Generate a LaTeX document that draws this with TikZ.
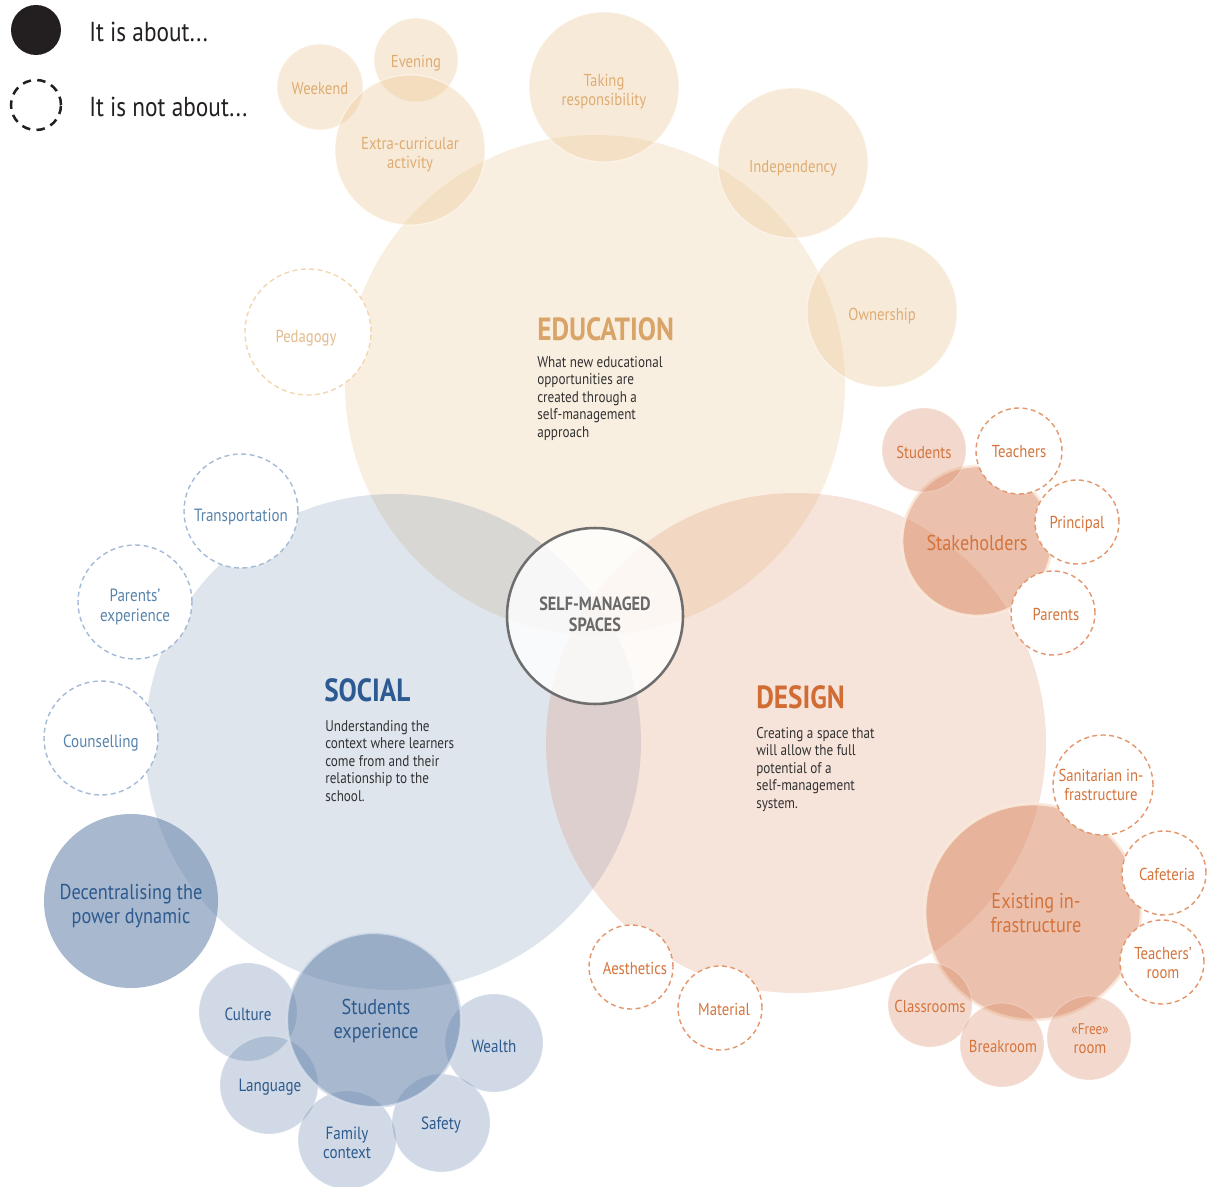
\documentclass[tikz,border=0pt]{standalone}
\usepackage{fontspec}
\setmainfont{PT Sans}[FakeStretch=0.85]
\definecolor{edubase}{RGB}{235,196,143}
\definecolor{edutext}{RGB}{222,172,115}
\definecolor{edutitle}{RGB}{217,164,104}
\definecolor{edudash}{RGB}{242,214,176}
\definecolor{edudashtext}{RGB}{228,188,140}
\definecolor{socbase}{RGB}{100,130,170}
\definecolor{soctext}{RGB}{45,90,142}
\definecolor{soctitle}{RGB}{44,90,145}
\definecolor{socdash}{RGB}{165,186,215}
\definecolor{socdashtext}{RGB}{88,132,172}
\definecolor{socring}{RGB}{214,223,235}
\definecolor{desbase}{RGB}{215,130,90}
\definecolor{destext}{RGB}{212,116,60}
\definecolor{destitle}{RGB}{209,108,52}
\definecolor{desdash}{RGB}{228,150,108}
\definecolor{desring}{RGB}{250,234,220}
\definecolor{inktext}{RGB}{50,50,50}
\definecolor{legendink}{RGB}{35,31,32}
\definecolor{hubline}{RGB}{110,110,110}
\definecolor{hubtext}{RGB}{105,105,105}
\begin{document}
\begin{tikzpicture}[x=0.025cm,y=-0.025cm,
  every node/.style={inner sep=0pt},
  dia/.style={minimum size=#1*0.025cm},
  % label styles
  lbl/.style={font=\fontsize{12.3}{13.5}\selectfont, align=center},
  soclbl/.style={font=\fontsize{12.6}{13.8}\selectfont, align=center},
  biglbl/.style={font=\fontsize{15.3}{17}\selectfont, align=center},
  desc/.style={font=\fontsize{11}{12.45}\selectfont, align=left, text=inktext, anchor=north west},
  title/.style={font=\fontsize{22.8}{26}\selectfont\bfseries, anchor=base west},
  % circle styles
  area/.style={circle, fill opacity=#1},
  edusat/.style={area=0.35, fill=edubase, draw=white, draw opacity=0.5, line width=0.8pt},
  socsat/.style={area=0.30, fill=socbase, draw=white, draw opacity=0.3, line width=0.6pt},
  socbig/.style={area=0.56, fill=socbase},
  dessat/.style={area=0.30, fill=desbase, draw=white, draw opacity=0.3, line width=0.6pt},
  desbig/.style={area=0.50, fill=desbase, draw=desring, draw opacity=0.85, line width=2pt},
  notabout/.style={circle, fill=white, dashed, dash pattern=on 3.5pt off 2.5pt, line width=1pt},
  notedu/.style={notabout, draw=edudash},
  notsoc/.style={notabout, draw=socdash},
  notdes/.style={notabout, draw=desdash},
  % text colours
  edut/.style={lbl, text=edutext},
  edudt/.style={lbl, text=edudashtext},
  soct/.style={soclbl, text=soctext},
  socbt/.style={biglbl, text=soctext},
  socdt/.style={soclbl, text=socdashtext},
  dest/.style={lbl, text=destext},
  desbt/.style={biglbl, text=destext},
]
\useasboundingbox (0,0) rectangle (1210,1187);

% ---- legend ----
\node[circle, fill=legendink, dia=50] (keyfull) at (36,30) {};
\node[circle, draw=legendink, line width=1.8pt, dash pattern=on 6pt off 4.5pt, dia=50] (keydash) at (36,105) {};
\node[anchor=base west, font=\fontsize{19.5}{22}\selectfont, text=legendink] (keyfulltxt) at (89,42) {It is about...};
\node[anchor=base west, font=\fontsize{19.5}{22}\selectfont, text=legendink] (keydashtxt) at (89,117) {It is not about...};

% ---- three main areas ----
\node[area=0.28, fill=edubase, dia=500] (education) at (595,385) {};
\node[area=0.21, fill=socbase, dia=496] (social) at (393,742) {};
\node[area=0.22, fill=desbase, dia=500] (design) at (796,743) {};

% ---- education ----
\node[edusat, dia=86] (weekend) at (320,87) {};
\node[edusat, dia=84] (evening) at (416,60) {};
\node[edusat, dia=150] (extra) at (410,150) {};
\node[edusat, dia=150] (responsibility) at (604,87) {};
\node[edusat, dia=150] (independency) at (793,163) {};
\node[edusat, dia=150] (ownership) at (882,312) {};
\node[notedu, dia=126] (pedagogy) at (308,332) {};

% ---- social ----
\node[socbig, dia=174] (decentral) at (131,901) {};
\node[socsat, dia=98] (culture) at (248,1012) {};
\node[socsat, dia=98] (language) at (269,1085) {};
\node[socsat, dia=98] (family) at (347,1140) {};
\node[socsat, dia=98] (safety) at (441,1123) {};
\node[socsat, dia=98] (wealth) at (494,1043) {};
\node[socbig, draw=socring, draw opacity=0.8, line width=1.5pt, dia=174] (studexp) at (374,1020) {};
\node[notsoc, dia=114] (transport) at (241,511) {};
\node[notsoc, dia=114] (parentsexp) at (135,602) {};
\node[notsoc, dia=114] (counselling) at (101,738) {};

% ---- design ----
\node[desbig, dia=150] (stakeholders) at (977,541) {};
\node[dessat, dia=84] (students) at (924,450) {};
\node[notdes, dia=86] (teachers) at (1019,451) {};
\node[notdes, dia=84] (principal) at (1077,522) {};
\node[notdes, dia=84] (parents) at (1053,613) {};
\node[desbig, dia=216] (existing) at (1033,912) {};
\node[dessat, dia=84] (classrooms) at (930,1005) {};
\node[dessat, dia=84] (breakroom) at (1002,1045) {};
\node[dessat, dia=84] (freeroom) at (1089,1038) {};
\node[notdes, dia=100] (sanitarian) at (1103,785) {};
\node[notdes, dia=84] (cafeteria) at (1164,873) {};
\node[notdes, dia=84] (teachersroom) at (1162,962) {};
\node[notdes, dia=84] (aesthetics) at (631,967) {};
\node[notdes, dia=84] (material) at (720,1008) {};

% ---- centre ----
\node[circle, fill=white, fill opacity=0.82, draw=hubline, draw opacity=1, line width=1.8pt, dia=176] (hub) at (595,616) {};
\node[font=\fontsize{13.6}{15}\selectfont\bfseries, text=hubtext, align=center] (hubtxt) at (595,614) {SELF-MANAGED\\SPACES};

% ---- bubble labels ----
\node[edut] (weekendtxt) at (320,89) {Weekend};
\node[edut] (eveningtxt) at (416,63) {Evening};
\node[edut] (extratxt) at (410,155) {Extra-curricular\\activity};
\node[edut] (responsibilitytxt) at (604,92) {Taking\\responsibility};
\node[edut] (independencytxt) at (793,168) {Independency};
\node[edut] (ownershiptxt) at (882,316) {Ownership};
\node[edudt] (pedagogytxt) at (306,338) {Pedagogy};

\node[socbt] (decentraltxt) at (131,906) {Decentralising the\\power dynamic};
\node[socbt] (studexptxt) at (376,1021) {Students\\experience};
\node[soct] (culturetxt) at (248,1014) {Culture};
\node[soct] (languagetxt) at (270,1087) {Language};
\node[soct] (familytxt) at (347,1143) {Family\\context};
\node[soct] (safetytxt) at (441,1125) {Safety};
\node[soct] (wealthtxt) at (494,1046) {Wealth};
\node[socdt] (transporttxt) at (241,517) {Transportation};
\node[socdt] (parentsexptxt) at (135,607) {Parents’\\experience};
\node[socdt] (counsellingtxt) at (101,743) {Counselling};

\node[desbt] (stakeholderstxt) at (977,543) {Stakeholders};
\node[dest] (studentstxt) at (924,452) {Students};
\node[dest] (teacherstxt) at (1019,452) {Teachers};
\node[dest] (principaltxt) at (1077,524) {Principal};
\node[dest] (parentstxt) at (1056,614) {Parents};
\node[desbt] (existingtxt) at (1036,913) {Existing in-\\frastructure};
\node[dest] (classroomstxt) at (930,1006) {Classrooms};
\node[dest] (breakroomtxt) at (1003,1046) {Breakroom};
\node[dest] (freeroomtxt) at (1090,1039) {\fontsize{11}{13.5}\selectfont«Free»\\room};
\node[dest] (sanitariantxt) at (1101,785) {Sanitarian in-\\frastructure};
\node[dest] (cafeteriatxt) at (1167,874) {Cafeteria};
\node[dest] (teachersroomtxt) at (1163,963) {Teachers’\\room};
\node[dest] (aestheticstxt) at (635,968) {Aesthetics};
\node[dest] (materialtxt) at (724,1009) {Material};

% ---- area titles and descriptions ----
\node[title, text=edutitle] (edutitle) at (537,341) {EDUCATION};
\node[desc] (edudesc) at (537,356) {What new educational\\opportunities are\\created through a\\self-management\\approach};
\node[title, text=soctitle] (soctitle) at (324,701) {SOCIAL};
\node[desc] (socdesc) at (325,720) {Understanding the\\context where learners\\come from and their\\relationship to the\\school.};
\node[title, text=destitle] (destitle) at (756,708) {DESIGN};
\node[desc] (desdesc) at (756,727) {Creating a space that\\will allow the full\\potential of a\\self-management\\system.};
\end{tikzpicture}
\end{document}
